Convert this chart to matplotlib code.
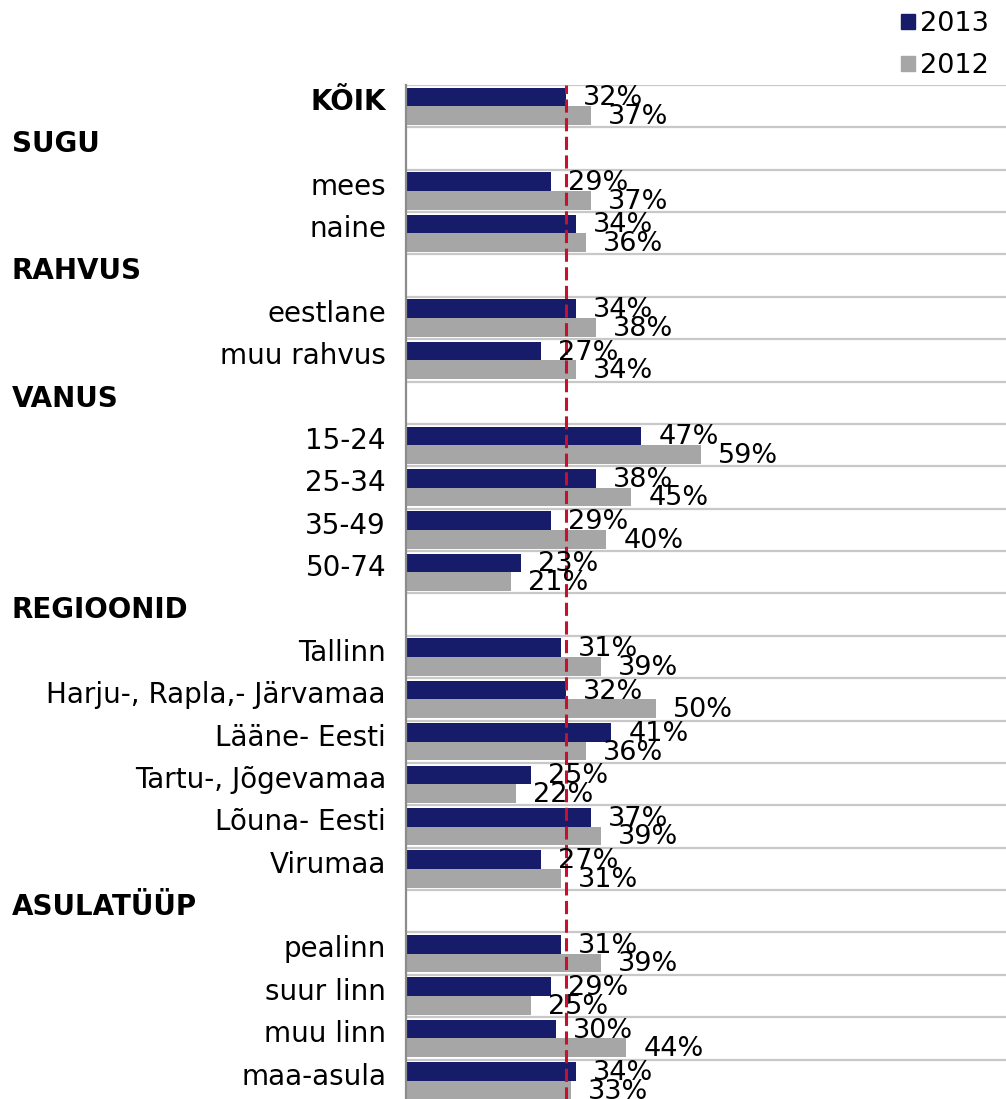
import numpy as np
import matplotlib
matplotlib.use('Agg')
import matplotlib.pyplot as plt
import matplotlib.transforms as mtransforms
from matplotlib.patches import Patch

# rows top to bottom; headers have no values
categories = ['KÕIK', 'SUGU', 'mees', 'naine', 'RAHVUS', 'eestlane', 'muu rahvus',
              'VANUS', '15-24', '25-34', '35-49', '50-74', 'REGIOONID', 'Tallinn',
              'Harju-, Rapla,- Järvamaa', 'Lääne- Eesti', 'Tartu-, Jõgevamaa',
              'Lõuna- Eesti', 'Virumaa', 'ASULATÜÜP', 'pealinn', 'suur linn',
              'muu linn', 'maa-asula']
headers = ['SUGU', 'RAHVUS', 'VANUS', 'REGIOONID', 'ASULATÜÜP']
bold_labels = ['KÕIK']

v2013 = [32, None, 29, 34, None, 34, 27, None, 47, 38, 29, 23, None, 31, 32, 41,
         25, 37, 27, None, 31, 29, 30, 34]
v2012 = [37, None, 37, 36, None, 38, 34, None, 59, 45, 40, 21, None, 39, 50, 36,
         22, 39, 31, None, 39, 25, 44, 33]

c2013 = '#161c6a'
c2012 = '#a6a6a6'
fs_cat = 20
fs_val = 19.5

W, H = 1006, 1099
fig = plt.figure(figsize=(W / 100, H / 100), dpi=100)
ax = fig.add_axes([406 / W, -3 / H, 1 - 406 / W, (H - 85 + 3) / H])

n = len(categories)
y = np.arange(n)
bh = 0.44
for i in range(n):
    if v2013[i] is not None:
        ax.barh(y[i] - bh / 2, v2013[i], height=bh, color=c2013, zorder=3)
        ax.annotate(f'{v2013[i]}%', (v2013[i], y[i] - bh / 2), xytext=(12.5, -1),
                    textcoords='offset points', ha='left', va='center',
                    fontsize=fs_val, zorder=5)
    if v2012[i] is not None:
        ax.barh(y[i] + bh / 2, v2012[i], height=bh, color=c2012, zorder=3)
        ax.annotate(f'{v2012[i]}%', (v2012[i], y[i] + bh / 2), xytext=(12.5, -1),
                    textcoords='offset points', ha='left', va='center',
                    fontsize=fs_val, zorder=5)

# reference line at overall 2013 value
ax.axvline(v2013[0], color='#c8102e', lw=2.2, ls=(0, (4.3, 1.8)), zorder=4)

ax.set_xlim(0, 120)
ax.set_ylim(n - 0.5, -0.5)
for b in np.arange(-0.5, n, 1):
    ax.axhline(b, color='#c8c8c8', lw=1.6, zorder=1)

ax.set_xticks([])
ax.set_yticks([])
for s in ['top', 'right', 'bottom']:
    ax.spines[s].set_visible(False)
ax.spines['left'].set_color('#8c8c8c')
ax.spines['left'].set_linewidth(1.6)
ax.spines['left'].set_zorder(6)

trans_lab = mtransforms.blended_transform_factory(fig.transFigure, ax.transData)
for i, c in enumerate(categories):
    if c in headers:
        ax.text(12 / W, y[i] - 0.1, c, transform=trans_lab, ha='left', va='center',
                fontsize=fs_cat, fontweight='bold')
    else:
        ax.text(386 / W, y[i] - 0.1, c, transform=trans_lab, ha='right', va='center',
                fontsize=fs_cat, fontweight='bold' if c in bold_labels else 'normal')

handles = [Patch(color=c2013, label='2013'), Patch(color=c2012, label='2012')]
fig.legend(handles=handles, loc='upper right', bbox_to_anchor=(1000 / W, 1 - 0 / H),
           frameon=False, fontsize=fs_val, handlelength=0.5, handleheight=0.5,
           handletextpad=0.2, labelspacing=0.6, borderaxespad=0)

fig.savefig('out.png', dpi=100)
